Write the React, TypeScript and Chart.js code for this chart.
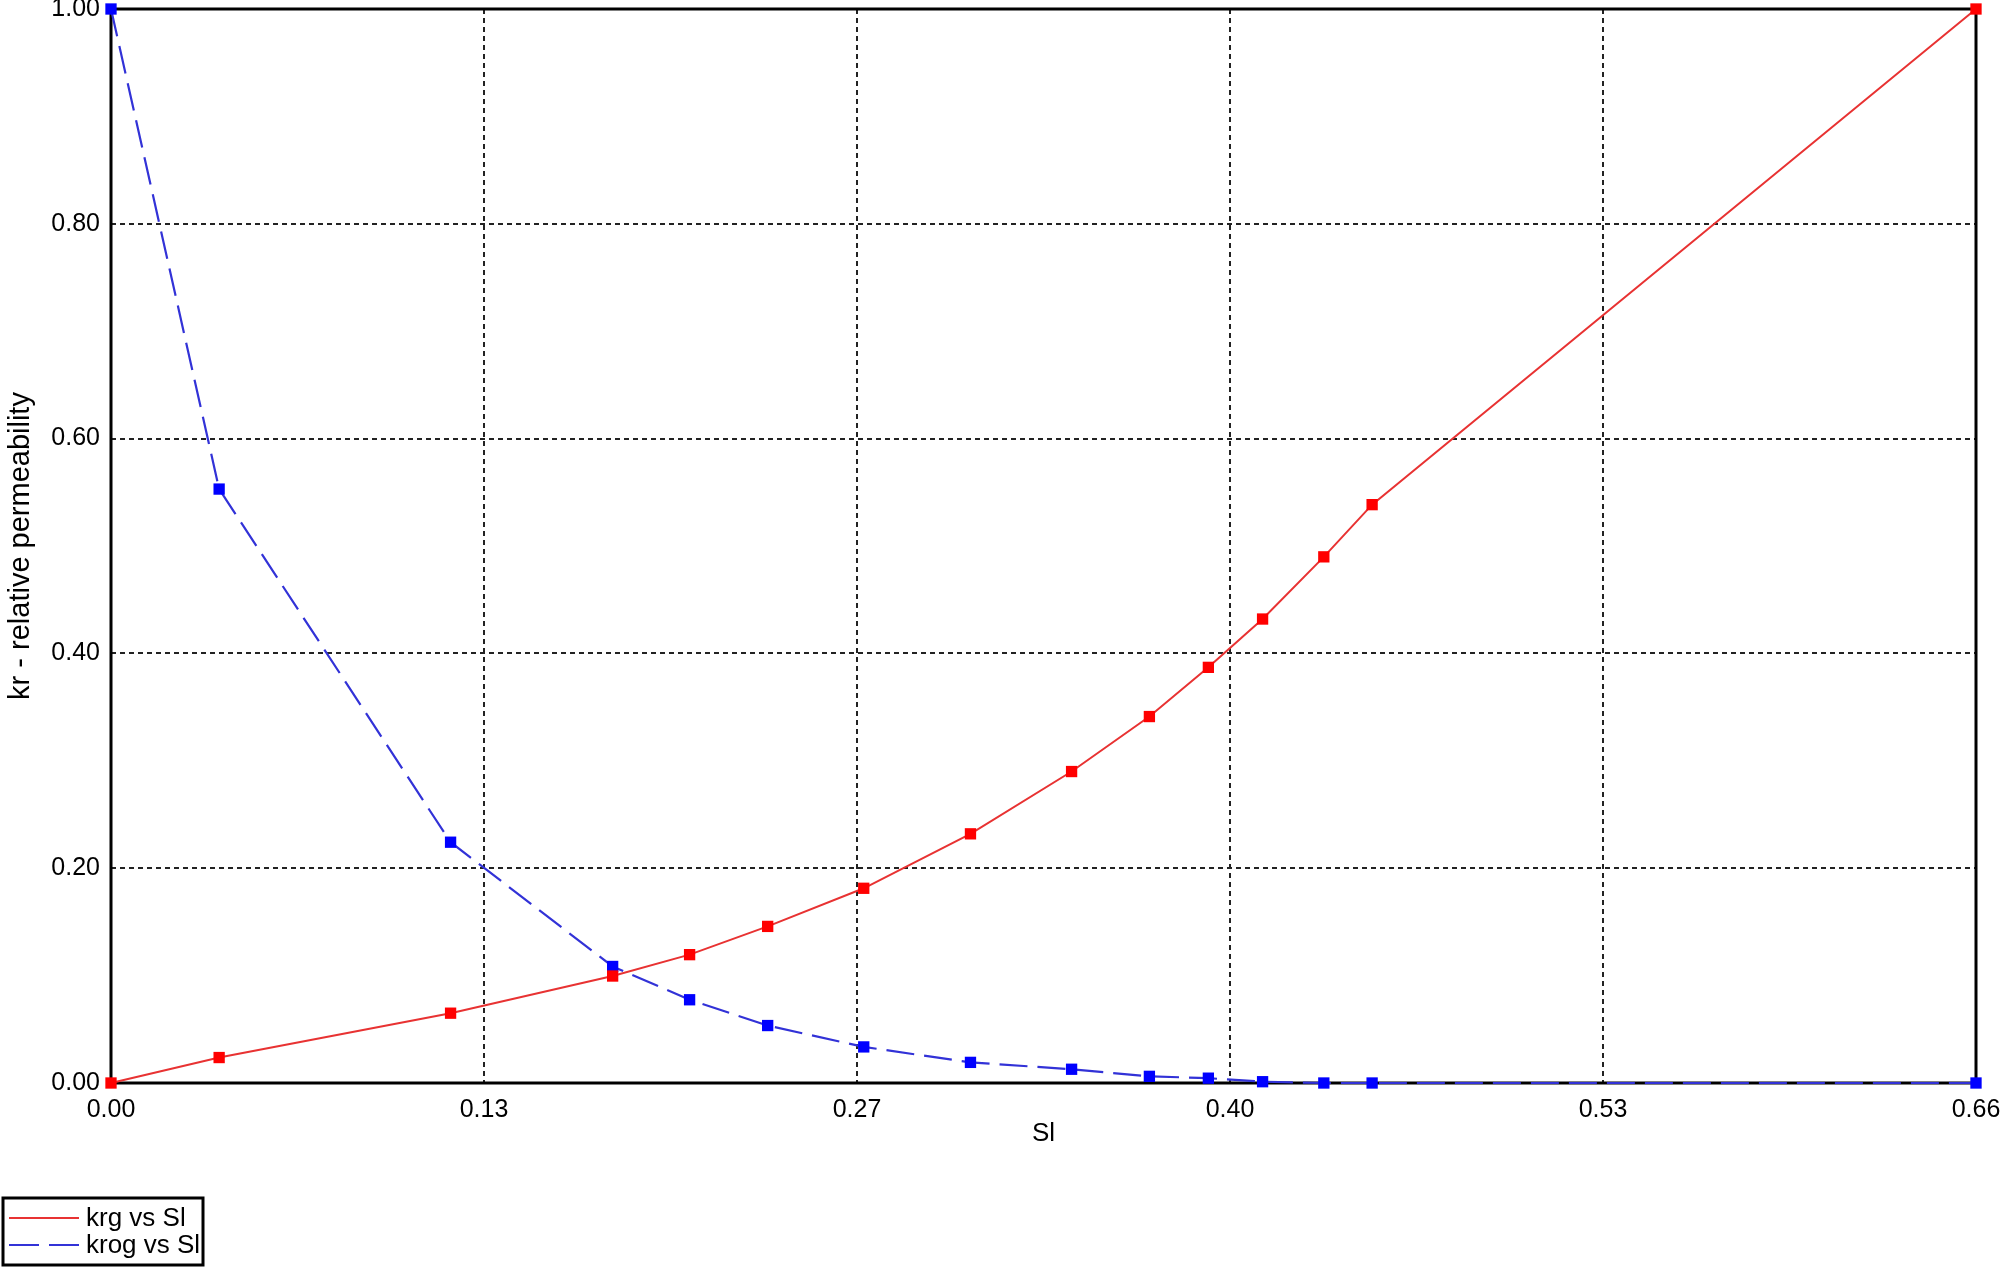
import React, { useEffect, useRef } from "react";
import { Chart, registerables } from "chart.js";

Chart.register(...registerables);

const SL = [0, 0.0385, 0.1209, 0.1786, 0.206, 0.2338, 0.268, 0.306, 0.342, 0.3697, 0.3907, 0.41, 0.4318, 0.449, 0.664];
const KRG = [0, 0.0237, 0.065, 0.0996, 0.1195, 0.1458, 0.1813, 0.232, 0.29, 0.3412, 0.387, 0.432, 0.4899, 0.5385, 1.0];
const KROG = [1.0, 0.553, 0.2242, 0.1085, 0.0775, 0.0535, 0.0336, 0.0192, 0.0128, 0.0062, 0.0045, 0.0012, 0, 0, 0];

const X_MAX = 0.664;
const X_TICK_LABELS = ["0.00", "0.13", "0.27", "0.40", "0.53", "0.66"];
const Y_TICK_LABELS = ["0.00", "0.20", "0.40", "0.60", "0.80", "1.00"];

const SERIES_LABELS = ["krg vs Sl", "krog vs Sl"];
const X_TITLE = "Sl";
const Y_TITLE = "kr - relative permeability";

const FONT = "'Liberation Sans', Arial, sans-serif";
const RED_LINE = "rgb(232,50,50)";
const RED_PT = "rgb(255,0,0)";
const BLUE_LINE = "rgb(50,50,215)";
const BLUE_PT = "rgb(0,0,255)";
const BLUE_DASH = [28, 10];

const W = 2000;
const H = 1267;

export default function App() {
  const ref = useRef<HTMLCanvasElement | null>(null);

  useEffect(() => {
    const canvas = ref.current;
    if (!canvas) return;

    const frame = {
      id: "frame",
      beforeDatasetsDraw(chart: any) {
        const { ctx, chartArea } = chart;
        ctx.save();
        ctx.strokeStyle = "#000";
        ctx.lineWidth = 3;
        ctx.setLineDash([]);
        ctx.strokeRect(chartArea.left, chartArea.top, chartArea.right - chartArea.left, chartArea.bottom - chartArea.top);
        ctx.restore();
      },
      afterDraw(chart: any) {
        const { ctx } = chart;
        ctx.save();
        const bx = 3, by = 1198, bw = 200, bh = 67;
        ctx.fillStyle = "#fff";
        ctx.fillRect(bx, by, bw, bh);
        ctx.strokeStyle = "#000";
        ctx.lineWidth = 3;
        ctx.strokeRect(bx, by, bw, bh);
        const rows = [
          { y: 1218, color: RED_LINE, dash: [] as number[], w: 2.2 },
          { y: 1245, color: BLUE_LINE, dash: [30, 10], w: 2.2 },
        ];
        rows.forEach((r, i) => {
          ctx.strokeStyle = r.color;
          ctx.lineWidth = r.w;
          ctx.setLineDash(r.dash);
          ctx.beginPath();
          ctx.moveTo(9, r.y);
          ctx.lineTo(79, r.y);
          ctx.stroke();
          ctx.setLineDash([]);
          ctx.fillStyle = "#000";
          ctx.font = `26px ${FONT}`;
          ctx.textBaseline = "middle";
          ctx.textAlign = "left";
          ctx.fillText(SERIES_LABELS[i], 86, r.y + 1);
        });
        ctx.restore();
      },
    };

    const chart = new Chart(canvas, {
      type: "line",
      data: {
        datasets: [
          {
            label: SERIES_LABELS[0],
            data: SL.map((x, i) => ({ x, y: KRG[i] })),
            borderColor: RED_LINE,
            backgroundColor: RED_PT,
            borderWidth: 2,
            pointStyle: "rect",
            pointRadius: 8,
            pointBorderWidth: 0,
            pointBackgroundColor: RED_PT,
            tension: 0,
            clip: false as any,
          },
          {
            label: SERIES_LABELS[1],
            data: SL.map((x, i) => ({ x, y: KROG[i] })),
            borderColor: BLUE_LINE,
            backgroundColor: BLUE_PT,
            borderWidth: 2.2,
            borderDash: BLUE_DASH,
            pointStyle: "rect",
            pointRadius: 8,
            pointBorderWidth: 0,
            pointBackgroundColor: BLUE_PT,
            tension: 0,
            clip: false as any,
          },
        ],
      },
      options: {
        responsive: false,
        animation: false,
        maintainAspectRatio: false,
        layout: { padding: { left: 0, right: 24, top: 9, bottom: 0 } },
        plugins: { legend: { display: false }, tooltip: { enabled: false } },
        scales: {
          x: {
            type: "linear",
            min: 0,
            max: X_MAX,
            afterBuildTicks(scale: any) {
              scale.ticks = X_TICK_LABELS.map((_, i) => ({ value: (i * X_MAX) / (X_TICK_LABELS.length - 1) }));
            },
            afterFit(scale: any) {
              scale.height = 184;
              scale.paddingLeft = 0;
              scale.paddingRight = 0;
            },
            ticks: {
              autoSkip: false,
              maxRotation: 0,
              padding: 12,
              color: "#000",
              font: { family: FONT, size: 25 },
              callback: (_v: any, i: number) => X_TICK_LABELS[i],
            },
            grid: { color: "#222", lineWidth: 2, drawTicks: false },
            border: { display: false, dash: [5, 4] },
            title: {
              display: true,
              text: X_TITLE,
              color: "#000",
              font: { family: FONT, size: 26 },
              padding: { top: 0, bottom: 118 },
            },
          },
          y: {
            type: "linear",
            min: 0,
            max: 1,
            afterBuildTicks(scale: any) {
              scale.ticks = Y_TICK_LABELS.map((_, i) => ({ value: i / (Y_TICK_LABELS.length - 1) }));
            },
            afterFit(scale: any) {
              scale.width = 111;
              scale.paddingTop = 0;
              scale.paddingBottom = 0;
            },
            ticks: {
              autoSkip: false,
              padding: 11,
              color: "#000",
              font: { family: FONT, size: 25 },
              callback: (_v: any, i: number) => Y_TICK_LABELS[i],
            },
            grid: { color: "#222", lineWidth: 2, drawTicks: false },
            border: { display: false, dash: [5, 4] },
            title: {
              display: true,
              text: Y_TITLE,
              color: "#000",
              font: { family: FONT, size: 29 },
              padding: { top: 4, bottom: 0 },
            },
          },
        },
      },
      plugins: [frame],
    } as any);

    return () => chart.destroy();
  }, []);

  return (
    <div style={{ position: "fixed", left: 0, top: 0, width: W, height: H, background: "#fff" }}>
      <canvas ref={ref} width={W} height={H} style={{ display: "block", width: W, height: H }} />
    </div>
  );
}
